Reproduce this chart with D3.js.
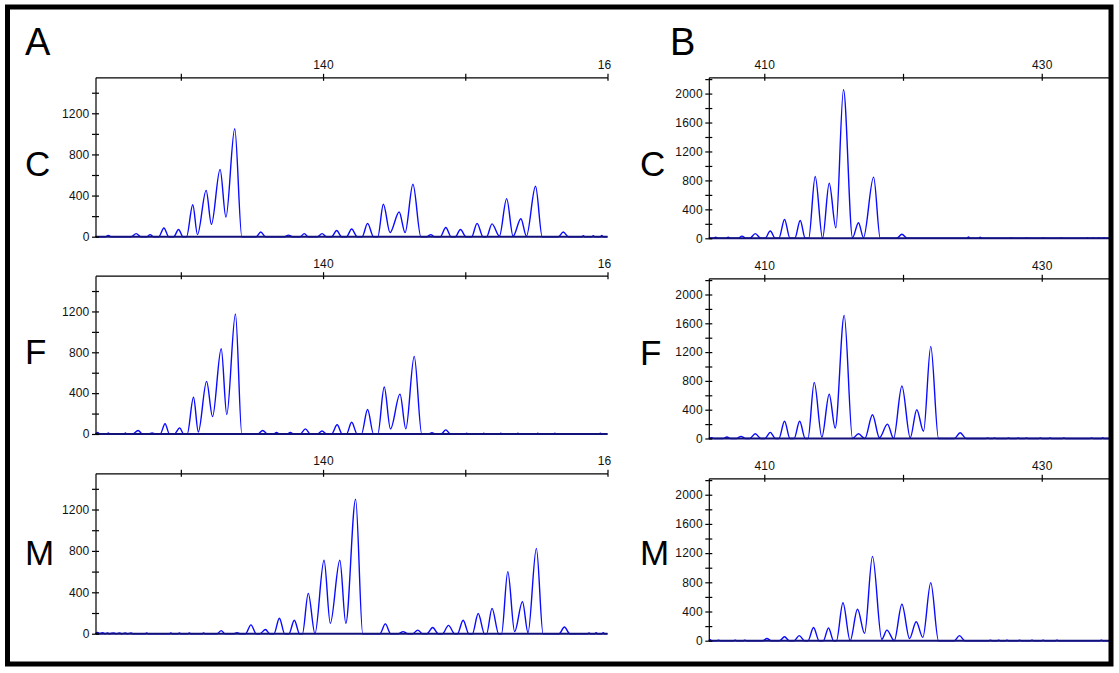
<!DOCTYPE html>
<html>
<head>
<meta charset="utf-8">
<script src="https://cdn.jsdelivr.net/npm/d3@7"></script>
<style>
  html, body { margin: 0; padding: 0; background: #fff; }
  svg { display: block; }
  .tick text { font-family: "Liberation Sans", Arial, sans-serif; font-size: 12px; fill: #111; letter-spacing: 0.2px; }
  .big { font-family: "Liberation Sans", Arial, sans-serif; fill: #000; }
</style>
</head>
<body>
<svg id="chart" width="1119" height="673"></svg>
<script>
// ---------------- DATA ----------------
const panelLetters = ["A", "B"];
const rowLabels = ["C", "F", "M"];

const leftXDomain = [124, 160];
const rightXDomain = [406, 435];
const leftYMax = 1550;
const rightYMax = 2225;

const leftXTicks = [130, 140, 150, 160];
const leftXLabels = [140, 160];
const rightXTicks = [410, 420, 430];
const rightXLabels = [410, 430];
const leftYTicks = [0, 200, 400, 600, 800, 1000, 1200, 1400];
const leftYLabels = [0, 400, 800, 1200];
const rightYTicks = [0, 200, 400, 600, 800, 1000, 1200, 1400, 1600, 1800, 2000, 2200];
const rightYLabels = [0, 400, 800, 1200, 1600, 2000];

// traces: [size, signal]
const traceAC = [[124,0],[124.7,0],[124.9,12],[125.1,0],[126.5,0],[126.86,30],[127.2,0],[127.6,0],[127.84,20],[128.1,0],
[128.45,0],[128.81,85],[129.15,0],[129.5,0],[129.84,70],[130.15,0],
[130.4,0],[130.84,310],[131.17,20],[131.78,450],[132.15,120],[132.76,655],[133.17,190],[133.79,1050],[134.29,0],
[135.3,0],[135.62,45],[135.95,0],[137.3,0],[137.57,15],[137.85,0],[138.4,0],[138.68,30],[138.95,0],
[139.6,0],[139.93,30],[140.25,0],[140.6,0],[140.96,60],[141.3,0],[141.65,0],[142.01,75],[142.4,0],
[142.75,0],[143.13,130],[143.55,0],
[143.85,0],[144.24,315],[144.71,40],[145.35,240],[145.77,40],[146.32,510],[146.88,0],
[147.3,0],[147.58,20],[147.85,0],[148.25,0],[148.63,90],[149.0,0],[149.3,0],[149.66,70],[150.05,0],
[150.45,0],[150.83,130],[151.25,0],[151.5,0],[151.88,125],[152.4,5],
[152.91,370],[153.36,5],[153.91,175],[154.3,5],[154.94,490],[155.41,0],
[156.55,0],[156.89,45],[157.25,0],
[158.2,0],[158.3,10],[158.4,0],[158.9,0],[159.0,10],[159.1,0],[159.5,0],[159.6,12],[159.7,0],[160,0]];

const traceAF = [[124,0],[124.15,15],[124.3,0],[124.8,0],[124.9,10],[125.0,0],[126.0,0],[126.1,10],[126.2,0],
[126.6,0],[127.0,35],[127.3,0],[127.75,0],[127.98,10],[128.2,0],[128.55,0],[128.89,100],[129.2,0],
[129.55,0],[129.92,60],[130.2,0],
[130.45,0],[130.89,360],[131.23,20],[131.81,515],[132.23,170],[132.84,835],[133.23,190],[133.84,1175],[134.29,0],
[135.4,0],[135.76,35],[136.1,0],[136.5,0],[136.73,15],[136.95,0],[137.45,0],[137.7,15],[137.95,0],
[138.4,0],[138.76,50],[139.1,0],[139.6,0],[139.93,30],[140.25,0],[140.6,0],[140.99,90],[141.35,0],
[141.65,0],[142.01,115],[142.4,0],[142.7,0],[143.13,240],[143.55,0],
[143.85,0],[144.3,460],[144.74,50],[145.41,390],[145.82,50],[146.41,760],[146.94,0],
[147.4,0],[147.66,12],[147.9,0],[148.3,0],[148.63,40],[148.95,0],
[150.0,0],[150.1,8],[150.2,0],[151.2,0],[151.3,8],[151.4,0],[152.4,0],[152.5,8],[152.6,0],[153.6,0],[153.7,8],[153.8,0],
[155.0,0],[155.1,8],[155.2,0],[156.2,0],[156.3,8],[156.4,0],[159.4,0],[159.5,8],[159.6,0],[160,0]];

const traceAM = [[124,0],[124.15,12],[124.3,0],[124.5,10],[124.65,0],[124.85,8],[125.0,0],[125.3,8],[125.45,0],
[125.7,8],[125.85,0],[126.1,8],[126.25,0],[126.5,8],[126.65,0],[127.5,0],[127.6,8],[127.7,0],
[129.2,0],[129.3,8],[129.4,0],[129.8,0],[129.9,8],[130.0,0],[130.5,0],[130.6,8],[130.7,0],[131.5,0],[131.6,8],[131.7,0],
[132.55,0],[132.84,30],[133.1,0],[133.75,0],[133.95,10],[134.15,0],[134.55,0],[134.93,85],[135.3,0],
[135.55,0],[135.95,40],[136.25,0],[136.55,0],[136.93,150],[137.3,0],[137.6,0],[137.98,130],[138.35,0],
[138.55,0],[138.96,390],[139.43,0],[140.07,710],[140.51,100],[141.18,710],[141.6,100],[142.29,1300],[142.79,0],
[144.0,0],[144.38,95],[144.75,0],[145.3,0],[145.63,20],[145.95,0],[146.3,0],[146.66,35],[147.0,0],
[147.3,0],[147.71,60],[148.1,0],[148.4,0],[148.82,80],[149.25,0],[149.45,0],[149.85,130],[150.25,0],
[150.5,0],[150.91,195],[151.35,0],[151.5,0],[151.88,245],[152.35,0],
[152.55,0],[152.99,600],[153.47,20],[154.02,310],[154.41,10],[155.0,825],[155.47,0],
[156.6,0],[156.97,65],[157.35,0],
[158.6,0],[158.7,8],[158.8,0],[159.1,0],[159.2,10],[159.3,0],[159.6,0],[159.7,10],[159.8,0],[160,0]];

const traceBC = [[406,0],[406.3,0],[406.5,15],[406.7,0],[407.2,0],[407.4,15],[407.6,0],
[408.1,0],[408.39,30],[408.7,0],[408.95,0],[409.35,65],[409.75,0],[410.05,0],[410.43,100],[410.8,0],
[411.05,0],[411.46,260],[411.85,0],[412.2,0],[412.59,245],[412.95,0],
[413.2,0],[413.67,855],[414.2,0],[414.68,760],[415.16,145],[415.71,2055],[416.36,10],[416.79,215],[417.15,10],[417.88,845],[418.36,0],
[419.55,0],[419.92,55],[420.3,0],
[424.6,0],[424.72,20],[424.85,0],[425.45,0],[425.56,15],[425.7,0],
[427.7,0],[427.8,10],[427.9,0],[428.8,0],[428.9,10],[429.0,0],[430.0,0],[430.1,8],[430.2,0],[431.3,0],[431.4,8],[431.5,0],
[433.2,0],[433.3,10],[433.4,0],[433.6,0],[433.7,10],[433.8,0],[434.0,0],[434.1,10],[434.2,0],[434.4,0],[434.5,10],[434.6,0],[435,0]];

const traceBF = [[406,0],[406.2,10],[406.4,0],[407.0,0],[407.31,20],[407.6,0],
[408.0,0],[408.32,30],[408.65,0],[408.95,0],[409.35,65],[409.75,0],[410.05,0],[410.43,85],[410.8,0],
[411.05,0],[411.46,240],[411.85,0],[412.15,0],[412.55,240],[412.95,0],
[413.15,0],[413.6,780],[414.15,20],[414.68,615],[415.11,145],[415.76,1710],[416.36,0],[416.79,65],[417.25,0],
[417.8,330],[418.3,10],[418.88,200],[419.32,0],[419.92,730],[420.52,10],[420.99,400],[421.48,100],[422.0,1280],[422.56,0],
[423.7,0],[424.12,80],[424.55,0],
[426.0,0],[426.1,8],[426.2,0],[426.5,0],[426.6,8],[426.7,0],[427.5,0],[427.6,8],[427.7,0],[428.2,0],[428.3,8],[428.4,0],
[428.8,0],[428.9,8],[429.0,0],[429.8,0],[429.9,8],[430.0,0],[430.5,0],[430.6,8],[430.7,0],[431.5,0],[431.6,8],[431.7,0],
[433.5,0],[433.6,8],[433.7,0],[434.3,0],[434.4,10],[434.5,0],[435,0]];

const traceBM = [[406,0],[406.1,15],[406.2,0],[406.6,0],[406.7,8],[406.8,0],[407.8,0],[407.9,8],[408.0,0],[408.5,0],[408.6,8],[408.7,0],
[409.9,0],[410.19,30],[410.5,0],[411.1,0],[411.46,55],[411.8,0],[412.15,0],[412.52,70],[412.9,0],
[413.15,0],[413.55,180],[413.95,0],[414.25,0],[414.63,175],[415.0,0],
[415.2,0],[415.67,520],[416.19,0],[416.72,430],[417.23,100],[417.8,1155],[418.47,20],[418.84,145],[419.37,0],
[419.92,500],[420.47,30],[420.95,260],[421.43,45],[422.0,795],[422.56,0],
[423.7,0],[424.07,70],[424.45,0],
[426.2,0],[426.3,8],[426.4,0],[426.8,0],[426.9,8],[427.0,0],[427.4,0],[427.5,8],[427.6,0],[428.3,0],[428.4,8],[428.5,0],
[429.2,0],[429.3,8],[429.4,0],[430.0,0],[430.1,8],[430.2,0],[431.0,0],[431.1,8],[431.2,0],[434.2,0],[434.3,8],[434.4,0],[435,0]];

// ---------------- LAYOUT ----------------
const svg = d3.select("#chart");
svg.append("rect").attr("width", 1119).attr("height", 673).attr("fill", "#fff");

const leftCol = { range: [95.5, 607.5], clipRight: 611, domain: leftXDomain, xTicks: leftXTicks, xLabels: leftXLabels,
  yMax: leftYMax, yTicks: leftYTicks, yLabels: leftYLabels, labelX: 25, letterX: 25,
  rows: [{top: 77.3, zero: 236.7, base: 176}, {top: 275.7, zero: 434, base: 364}, {top: 473.3, zero: 633.7, base: 565}],
  traces: [traceAC, traceAF, traceAM] };
const rightCol = { range: [708.8, 1111.1], clipRight: 1109, domain: rightXDomain, xTicks: rightXTicks, xLabels: rightXLabels,
  yMax: rightYMax, yTicks: rightYTicks, yLabels: rightYLabels, labelX: 640, letterX: 670,
  rows: [{top: 77.3, zero: 238.3, base: 176}, {top: 278.3, zero: 438.5, base: 365}, {top: 478.3, zero: 640.7, base: 565}],
  traces: [traceBC, traceBF, traceBM] };

const defs = svg.append("defs");
let clipId = 0;

[leftCol, rightCol].forEach((col, ci) => {
  const x = d3.scaleLinear().domain(col.domain).range(col.range);
  // panel letter
  svg.append("text").attr("class", "big").attr("x", col.letterX).attr("y", 55)
    .attr("font-size", 38).text(panelLetters[ci]);

  col.rows.forEach((r, ri) => {
    const y = d3.scaleLinear().domain([0, col.yMax]).range([r.zero, r.top]);
    const id = "clip" + (clipId++);
    defs.append("clipPath").attr("id", id).append("rect")
      .attr("x", 0).attr("y", 0).attr("width", col.clipRight).attr("height", 673);
    const g = svg.append("g").attr("clip-path", `url(#${id})`);

    // row label
    svg.append("text").attr("class", "big").attr("x", col.labelX).attr("y", r.base)
      .attr("font-size", 35).text(rowLabels[ri]);

    // trace
    const line = d3.line().x(d => x(d[0])).y(d => y(d[1])).curve(d3.curveMonotoneX);
    g.append("path").datum(col.traces[ri]).attr("d", line)
      .attr("fill", "none").attr("stroke", "#0a0aff").attr("stroke-width", 1.4).attr("stroke-linejoin", "round");

    // baseline
    g.append("line").attr("x1", col.range[0]).attr("x2", col.range[1])
      .attr("y1", y(0)).attr("y2", y(0)).attr("stroke", "#12127a").attr("stroke-width", 2);

    // top axis (labels + outward ticks)
    const ax = g.append("g").attr("transform", `translate(0,${r.top})`)
      .call(d3.axisTop(x).tickValues(col.xTicks).tickSize(3.5).tickSizeOuter(0).tickPadding(4.5)
        .tickFormat(d => col.xLabels.includes(d) ? d : ""));
    g.append("g").attr("transform", `translate(0,${r.top})`)
      .call(d3.axisBottom(x).tickValues(col.xTicks).tickSize(3.5).tickSizeOuter(0).tickFormat(""))
      .select(".domain").remove();

    // left axis
    const ay = svg.append("g").attr("transform", `translate(${col.range[0]},0)`)
      .call(d3.axisLeft(y).tickValues(col.yTicks).tickSize(3.5).tickSizeOuter(0).tickPadding(2.5)
        .tickFormat(d => col.yLabels.includes(d) ? d : ""));
    svg.append("g").attr("transform", `translate(${col.range[0]},0)`)
      .call(d3.axisRight(y).tickValues(col.yTicks).tickSize(3.5).tickSizeOuter(0).tickFormat(""))
      .select(".domain").remove();

    [ax, ay].forEach(a => {
      a.attr("font-family", null).attr("font-size", null);
      a.selectAll("path, line").attr("stroke", "#000").attr("stroke-width", 1.2);
    });
    svg.selectAll(".tick line").attr("stroke", "#000").attr("stroke-width", 1.2);
  });
});

// outer frame
svg.append("rect").attr("x", 7.5).attr("y", 7).attr("width", 1103.5).attr("height", 657)
  .attr("fill", "none").attr("stroke", "#000").attr("stroke-width", 5);
</script>
</body>
</html>
